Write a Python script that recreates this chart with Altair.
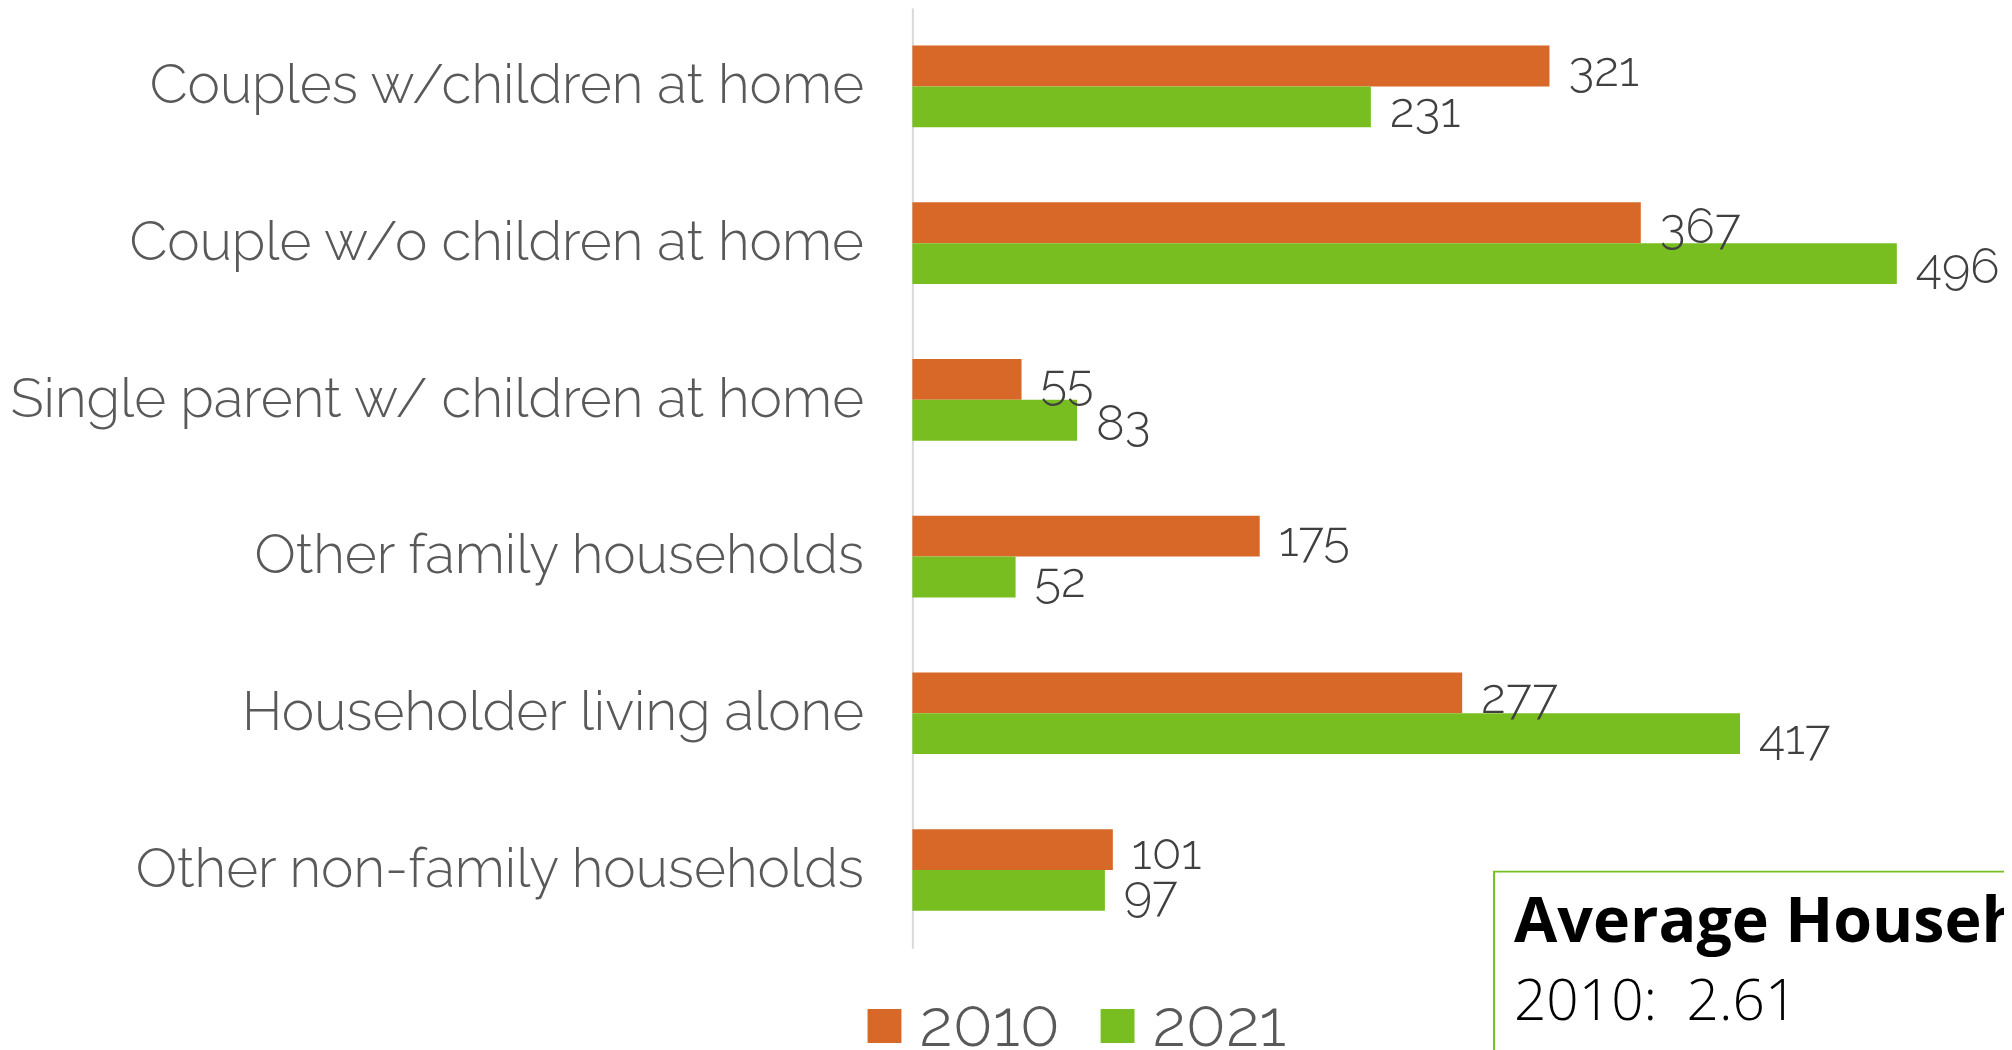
import altair as alt
import pandas as pd

categories = [
    "Couples w/children at home",
    "Couple w/o children at home",
    "Single parent w/ children at home",
    "Other family households",
    "Householder living alone",
    "Other non-family households",
]
years = ["2010", "2021"]
values_2010 = [321, 367, 55, 175, 277, 101]
values_2021 = [231, 496, 83, 52, 417, 97]
colors = ["#D86827", "#78BE20"]

box_title = ["Average Household Size"]
box_line = ["2010:\u00a0\u00a02.61"]

rows = []
for c, a, b in zip(categories, values_2010, values_2021):
    rows.append({"category": c, "year": years[0], "value": a})
    rows.append({"category": c, "year": years[1], "value": b})
df = pd.DataFrame(rows)

FONT = "Raleway, Lato, sans-serif"

base = alt.Chart(df).encode(
    y=alt.Y(
        "category:N",
        sort=categories,
        title=None,
        scale=alt.Scale(paddingInner=0.479, paddingOuter=0.2395, range=[-2, 942]),
        axis=alt.Axis(
            domain=True,
            domainColor="#d9d9d9",
            domainWidth=2,
            ticks=False,
            grid=False,
            labelFont=FONT,
            labelFontSize=55,
            labelFontWeight=300,
            labelColor="#595959",
            labelPadding=49,
            labelLimit=1000,
        ),
    ),
    yOffset=alt.YOffset("year:N", sort=years),
    x=alt.X(
        "value:Q",
        scale=alt.Scale(domain=[0, 550], nice=False, zero=True),
        axis=None,
    ),
)

bars = base.mark_bar().encode(
    color=alt.Color(
        "year:N",
        sort=years,
        scale=alt.Scale(domain=years, range=colors),
        legend=alt.Legend(
            title=None,
            orient="none",
            legendX=-61,
            legendY=987,
            direction="horizontal",
            symbolType="square",
            symbolSize=1156,
            symbolStrokeWidth=0,
            symbolOpacity=1,
            labelFont=FONT,
            labelFontSize=66,
            labelFontWeight=300,
            labelColor="#595959",
            labelOffset=2,
            columnPadding=24,
            padding=0,
        ),
    )
)

labels = base.mark_text(
    align="left",
    baseline="middle",
    dx=19,
    dy=5,
    font=FONT,
    fontSize=49,
    fontWeight=300,
    color="#404040",
).encode(text="value:Q")

ann = pd.DataFrame({"title": box_title, "line": box_line})

box = alt.Chart(ann).mark_rect(
    filled=False, stroke="#78BE20", strokeWidth=2
).encode(
    x=alt.value(584), x2=alt.value(1400), y=alt.value(865), y2=alt.value(1300)
)

t1 = alt.Chart(ann).mark_text(
    align="left",
    baseline="alphabetic",
    font="Open Sans, Lato, sans-serif",
    fontSize=63,
    fontWeight="bold",
    color="#000000",
).encode(x=alt.value(604), y=alt.value(936), text="title:N")

t2 = alt.Chart(ann).mark_text(
    align="left",
    baseline="alphabetic",
    font="Open Sans, Lato, sans-serif",
    fontSize=57,
    fontWeight=300,
    color="#000000",
).encode(x=alt.value(604), y=alt.value(1014), text="line:N")

chart = (
    alt.layer(bars, labels, box, t1, t2)
    .properties(
        width=1096,
        height=944,
        padding={"left": 908, "top": 0, "right": 0, "bottom": 98},
        autosize=alt.AutoSizeParams(type="none"),
    )
    .configure_view(stroke=None)
)

chart.save("out.html", embed_options={"renderer": "svg", "actions": False})
